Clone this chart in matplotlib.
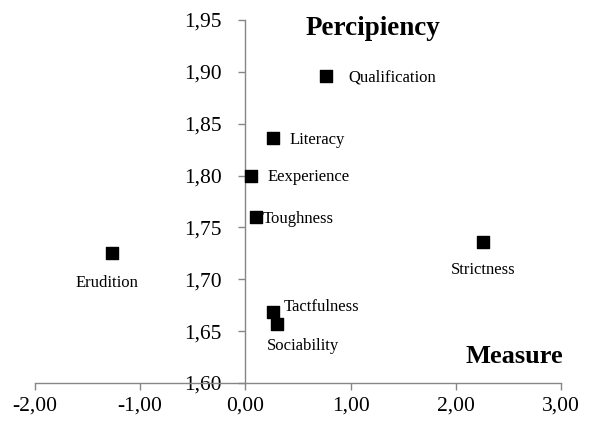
import matplotlib
matplotlib.use("Agg")
import matplotlib.pyplot as plt
import matplotlib.ticker as mticker

# Measure (x) vs Percipiency (y)
NAMES = ["Qualification", "Literacy", "Eexperience", "Toughness",
         "Strictness", "Erudition", "Tactfulness", "Sociability"]
MEASURE = [0.77, 0.26, 0.05, 0.10, 2.26, -1.27, 0.265, 0.305]
PERCIP  = [1.896, 1.836, 1.800, 1.760, 1.736, 1.725, 1.668, 1.657]

# label offsets in pixels (dx, dy) and horizontal alignment
OFFSETS = {
    "Qualification": (22, -1, "left"),
    "Literacy":      (17, -2, "left"),
    "Eexperience":   (17, -1, "left"),
    "Toughness":     (7, -2, "left"),
    "Strictness":    (0, -28, "center"),
    "Erudition":     (-5, -30, "center"),
    "Tactfulness":   (10, 5, "left"),
    "Sociability":   (26, -22, "center"),
}

plt.rcParams["font.family"] = ["Liberation Serif", "DejaVu Serif"]

fig = plt.figure(figsize=(5.9, 4.23), dpi=100)
ax = fig.add_axes([0.0593, 0.0946, 0.8915, 0.8581])

ax.scatter(MEASURE, PERCIP, marker="s", s=85, color="black", zorder=3)

for name, x, y in zip(NAMES, MEASURE, PERCIP):
    dx, dy, ha = OFFSETS[name]
    ax.annotate(name, (x, y), xytext=(dx, dy), textcoords="offset pixels",
                ha=ha, va="center", fontsize=12)

ax.set_xlim(-2, 3)
ax.set_ylim(1.60, 1.95)
ax.set_xticks([-2, -1, 0, 1, 2, 3])
ax.set_yticks([1.60, 1.65, 1.70, 1.75, 1.80, 1.85, 1.90, 1.95])
ax.xaxis.set_major_formatter(mticker.FuncFormatter(lambda v, p: f"{v:.2f}".replace(".", ",")))
ax.yaxis.set_major_formatter(mticker.FuncFormatter(lambda v, p: f"{v:.2f}".replace(".", ",")))

ax.spines["left"].set_position(("data", 0))
ax.spines["top"].set_visible(False)
ax.spines["right"].set_visible(False)
for s in ("left", "bottom"):
    ax.spines[s].set_color("#868686")
    ax.spines[s].set_linewidth(1.0)
ax.tick_params(axis="both", direction="out", length=5, color="#868686",
               labelsize=15.5, width=1.0)
ax.tick_params(axis="y", pad=12)
ax.tick_params(axis="x", pad=5)

ax.text(1.21, 1.942, "Percipiency", fontsize=19.5, fontweight="bold",
        ha="center", va="center")
ax.text(2.56, 1.626, "Measure", fontsize=19, fontweight="bold",
        ha="center", va="center")

fig.savefig("out.png", dpi=100)
